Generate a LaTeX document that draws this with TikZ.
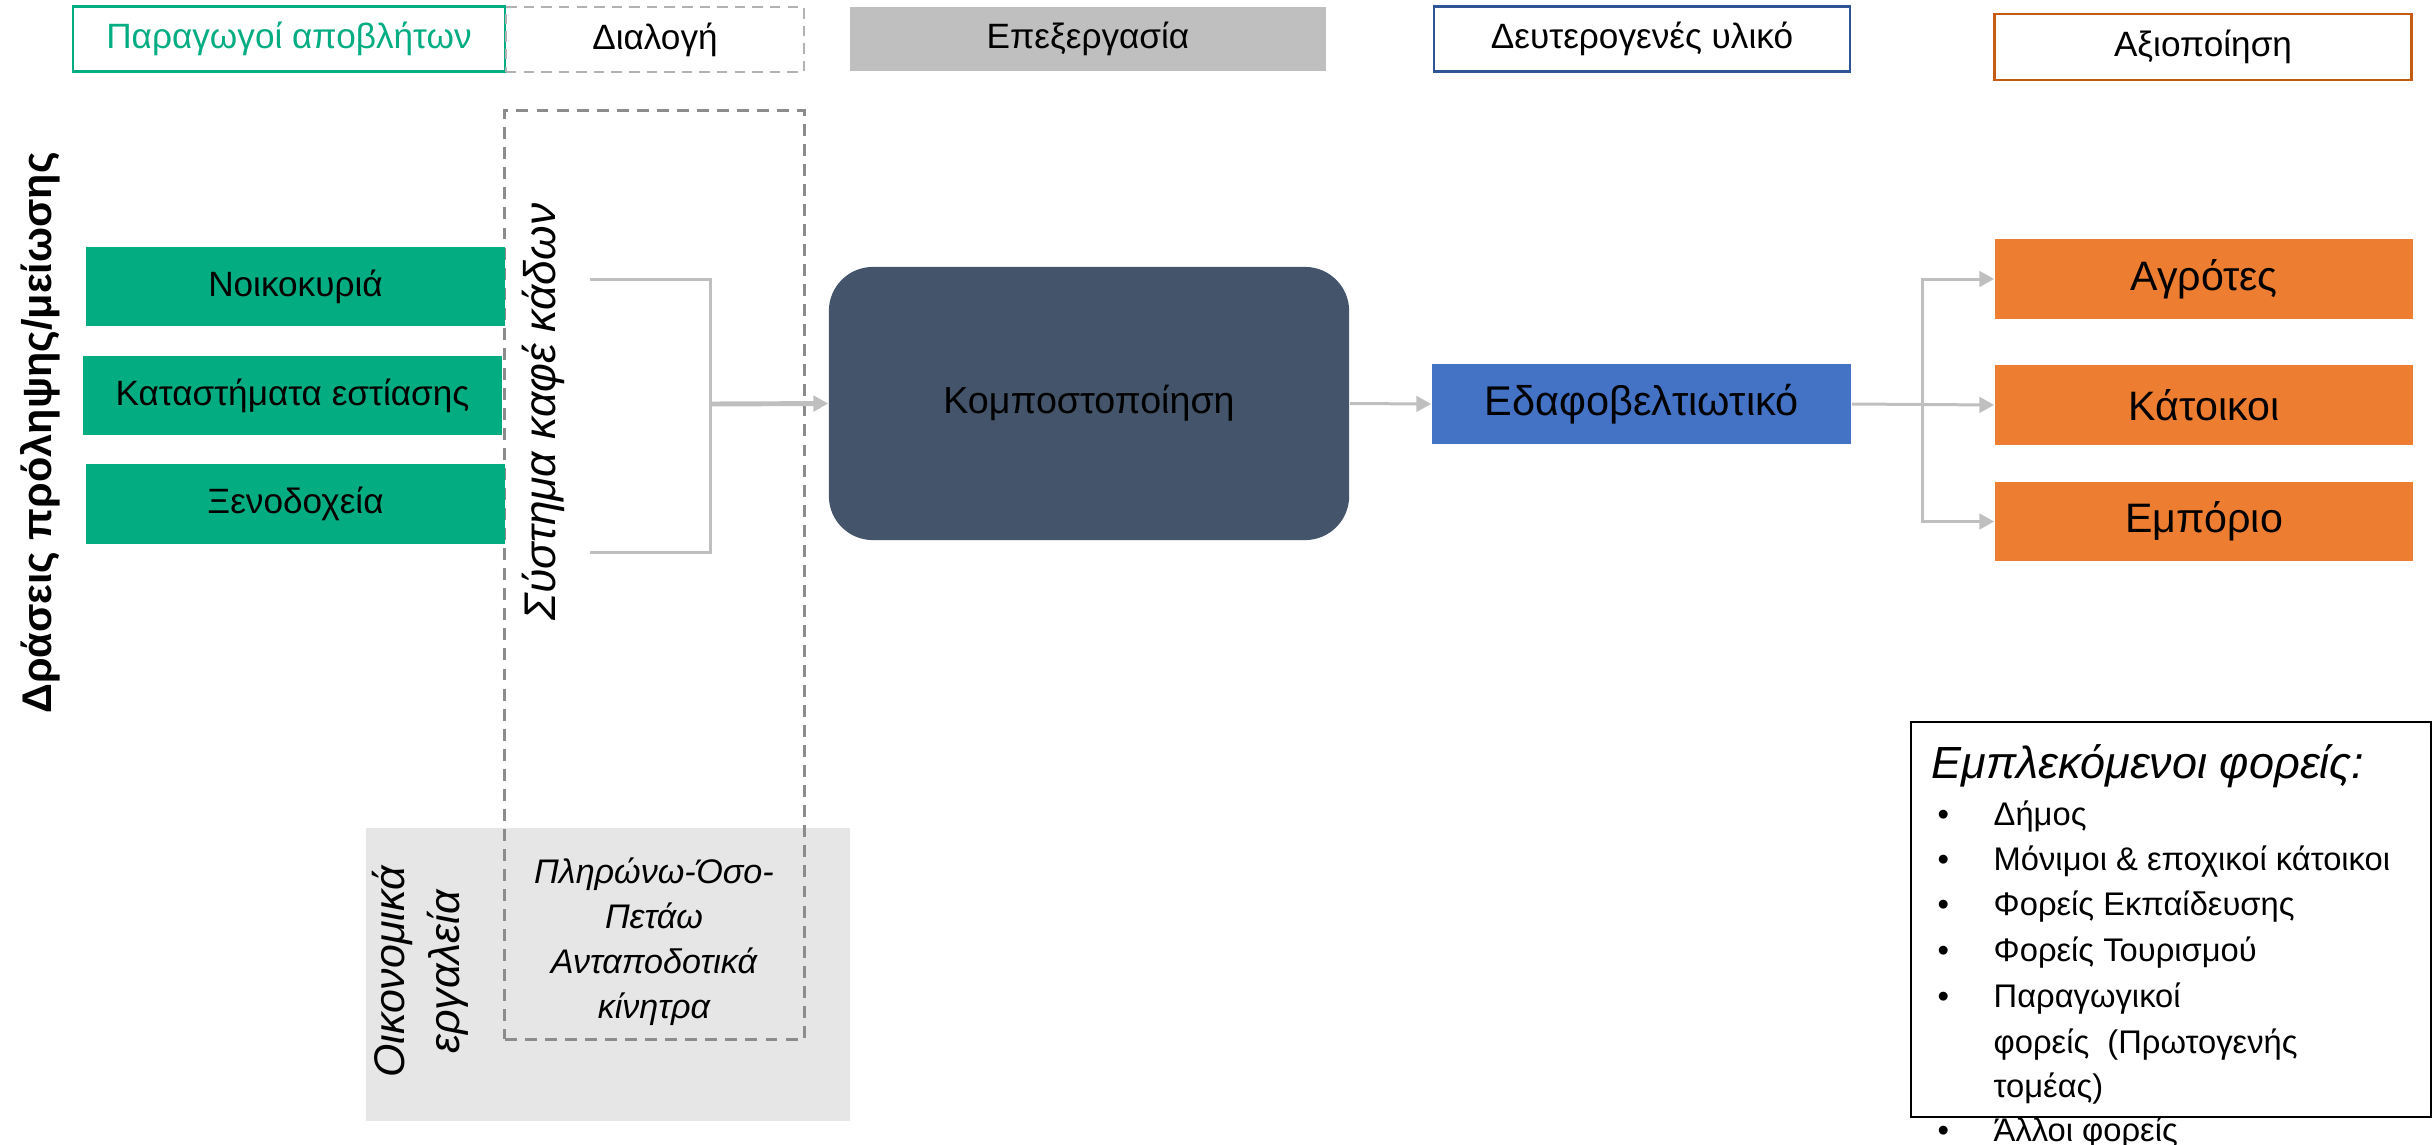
\documentclass[tikz,border=0pt]{standalone}
\usepackage{fontspec}
\setmainfont{Liberation Sans}
\usetikzlibrary{arrows.meta}
\definecolor{wastegreen}{RGB}{4,172,130}
\definecolor{procgray}{RGB}{191,191,191}
\definecolor{secblue}{RGB}{47,85,151}
\definecolor{soilblue}{RGB}{68,114,196}
\definecolor{valorange}{RGB}{197,90,17}
\definecolor{useorange}{RGB}{237,125,49}
\definecolor{slate}{RGB}{68,84,106}
\definecolor{toolgray}{RGB}{231,230,230}
\definecolor{flowgray}{RGB}{191,191,191}
\newcommand{\fsz}[2]{\fontsize{#1}{#2}\selectfont}
\tikzset{
  hdr/.style={inner sep=0pt, minimum height=0.65cm, font=\fsz{10pt}{12pt}, line width=0.7pt},
  srcbox/.style={fill=wastegreen, inner sep=0pt, minimum width=4.19cm, minimum height=0.79cm, font=\fsz{10pt}{12pt}},
  usebox/.style={fill=useorange, inner sep=0pt, minimum width=4.18cm, minimum height=0.795cm, font=\fsz{11.7pt}{14pt}},
  dashbox/.style={draw=gray!90, line width=0.85pt, dash pattern=on 3.4pt off 2.3pt},
  flow/.style={draw=flowgray, line width=0.85pt},
  arr/.style={flow, -{Triangle[length=4.2pt,width=4.4pt]}},
}

\begin{document}
\begin{tikzpicture}[x=0.01cm, y=-0.01cm]
    \useasboundingbox (0,0) rectangle (2432,1145);

    % header row
    \node[hdr, draw=wastegreen, text=wastegreen, minimum width=4.32cm] (hprod) at (289,39) {Παραγωγοί αποβλήτων};
    \node[hdr, draw=gray!60, dash pattern=on 3pt off 2pt, minimum width=2.98cm] (hsort) at (655,39.5) {Διαλογή};
    \node[hdr, fill=procgray, minimum width=4.76cm, minimum height=0.64cm] (hproc) at (1088,39) {Επεξεργασία};
    \node[hdr, draw=secblue, minimum width=4.16cm] (hsec) at (1642,39) {Δευτερογενές υλικό};
    \node[hdr, draw=valorange, minimum width=4.17cm, minimum height=0.66cm] (hval) at (2203,47) {Αξιοποίηση};

    % economic tools and sorting column
    \node[fill=toolgray, inner sep=0pt, minimum width=4.84cm, minimum height=2.93cm] (tools) at (608,974.5) {};
    \node[dashbox, inner sep=0pt, minimum width=2.99cm, minimum height=9.28cm] (sortcol) at (654.5,575) {};
    \node[rotate=90, align=center, font=\fsz{12.2pt}{15.6pt}\itshape] (toolslbl) at (420,972) {Οικονομικά\\εργαλεία};
    \node[align=center, font=\fsz{9.7pt}{12.8pt}\itshape] (payt) at (654,942) {Πληρώνω-Όσο-\\Πετάω\\Ανταποδοτικά\\κίνητρα};
    \node[rotate=90, font=\fsz{12.6pt}{14pt}\itshape] (bins) at (543,412) {Σύστημα καφέ κάδων};

    \node[rotate=90, font=\fsz{11.8pt}{14pt}\bfseries] (prev) at (40,433) {Δράσεις πρόληψης/μείωσης};

    % producers
    \node[srcbox] (house) at (295.5,286.5) {Νοικοκυριά};
    \node[srcbox] (rest) at (292.5,395.5) {Καταστήματα εστίασης};
    \node[srcbox] (hotel) at (295.5,504) {Ξενοδοχεία};

    % processing and product
    \node[fill=slate, rounded corners=0.44cm, inner sep=0pt, minimum width=5.2cm, minimum height=2.73cm, font=\fsz{10.7pt}{13pt}] (compost) at (1089,403.5) {Κομποστοποίηση};
    \node[fill=soilblue, inner sep=0pt, minimum width=4.19cm, minimum height=0.79cm, font=\fsz{11.8pt}{14pt}] (soil) at (1641.5,404) {Εδαφοβελτιωτικό};

    % users
    \node[usebox] (farm) at (2204,279) {Αγρότες};
    \node[usebox] (resid) at (2204,405) {Κάτοικοι};
    \node[usebox] (shop) at (2204,521.5) {Εμπόριο};

    % connectors
    \coordinate (binA) at (590,279);
    \coordinate (binB) at (590,552);
    \coordinate (merge) at (710,404);
    \coordinate (split) at (1922,404);
    \draw[flow] (binA) -| (merge) |- (binB);
    \draw[arr, line width=1.4pt] (merge) -- (compost.west);
    \draw[arr] (compost.east) -- (soil.west);
    \draw[arr] (soil.east) -- (resid.west);
    \draw[arr] (split) |- (farm.west);
    \draw[arr] (split) |- (shop.west);

    % stakeholders
    \node[draw=black, line width=0.6pt, inner sep=0pt, minimum width=5.2cm, minimum height=3.95cm] (legend) at (2171,919.5) {};
    \node[anchor=base west, inner sep=0pt, font=\fsz{12.8pt}{15pt}\itshape] (legtitle) at (1931,778) {Εμπλεκόμενοι φορείς:};
    \foreach \y/\b/\t [count=\i] in {825/•/Δήμος, 870/•/Μόνιμοι \& εποχικοί κάτοικοι, 915/•/Φορείς Εκπαίδευσης, 961/•/Φορείς Τουρισμού, 1007/•/Παραγωγικοί, 1053/{}/φορείς~~(Πρωτογενής, 1097/{}/τομέας), 1141/•/Άλλοι φορείς}
    {
        \node[anchor=base west, inner sep=0pt, font=\fsz{9.3pt}{10pt}] (bul\i) at (1937,\y) {\b};
        \node[anchor=base west, inner sep=0pt, font=\fsz{9.3pt}{10pt}] (item\i) at (1993,\y) {\t};
    }

\end{tikzpicture}
\end{document}
